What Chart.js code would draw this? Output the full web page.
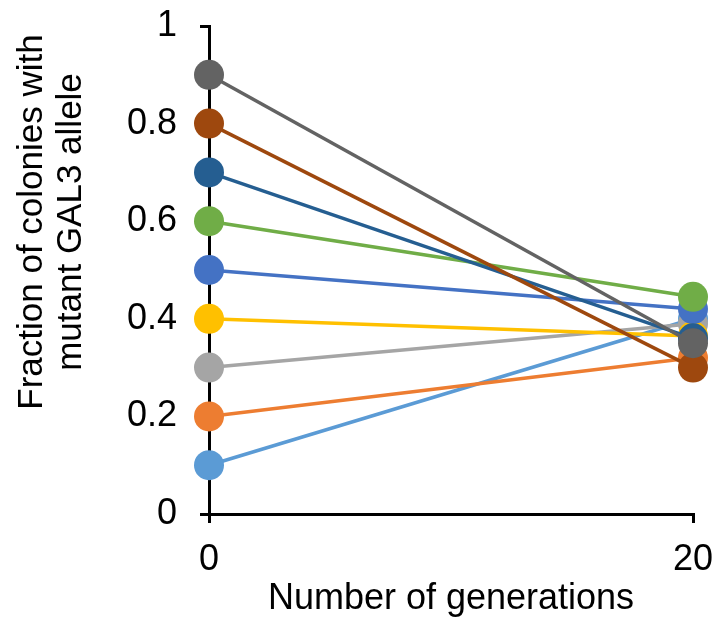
<!DOCTYPE html>
<html>
<head>
<meta charset="utf-8">
<script src="https://cdn.jsdelivr.net/npm/chart.js@4/dist/chart.umd.min.js"></script>
<style>
    body { margin: 0; background: #ffffff; }
    #wrap { width: 716px; height: 623px; }
</style>
</head>
<body>
<div id="wrap"><canvas id="chart"></canvas></div>
<script>
// generations on the x axis
const generations = [0, 20];
// fraction of colonies with mutant allele, one entry per population
const fractionStart = [0.1, 0.2, 0.3, 0.4, 0.5, 0.6, 0.7, 0.8, 0.9];
const fractionEnd = [0.40, 0.32, 0.39, 0.365, 0.42, 0.445, 0.36, 0.30, 0.35];
const seriesColors = ['#5B9BD5', '#ED7D31', '#A5A5A5', '#FFC000', '#4472C4', '#70AD47', '#255E91', '#9E480E', '#636363'];
const yTitleLines = ['Fraction of colonies with', 'mutant GAL3 allele'];
const xTitle = 'Number of generations';

const fontFamily = "'Liberation Sans', Arial, sans-serif";

/* y title is centred higher than the plot area, so it is drawn here */
const yTitlePlugin = {
    id: 'yTitle',
    afterDraw(chart) {
        const ctx = chart.ctx;
        ctx.save();
        ctx.fillStyle = '#000000';
        ctx.font = '35px ' + fontFamily;
        ctx.textAlign = 'center';
        ctx.textBaseline = 'middle';
        const xs = [32, 71];
        yTitleLines.forEach((line, i) => {
            ctx.save();
            ctx.translate(xs[i], 222);
            ctx.rotate(-Math.PI / 2);
            ctx.fillText(line, 0, 0);
            ctx.restore();
        });
        ctx.restore();
    },
};

const datasets = fractionStart.map((v, i) => ({
    label: 'Population ' + (i + 1),
    data: [
        { x: generations[0], y: v },
        { x: generations[1], y: fractionEnd[i] },
    ],
    borderColor: seriesColors[i],
    backgroundColor: seriesColors[i],
    pointBackgroundColor: seriesColors[i],
    pointBorderColor: seriesColors[i],
    // later populations sit on top, like the original
    order: fractionStart.length - 1 - i,
}));

new Chart(document.getElementById('chart'), {
    type: 'line',
    data: { datasets: datasets },
    plugins: [yTitlePlugin],
    options: {
        responsive: true,
        maintainAspectRatio: false,
        animation: false,
        layout: {
            padding: { left: 128, right: 23, top: 26, bottom: 0 },
        },
        datasets: {
            line: {
                borderWidth: 3.5,
                pointRadius: 15,
                pointBorderWidth: 0,
                clip: false,
                tension: 0,
            },
        },
        scales: {
            x: {
                type: 'linear',
                min: 0,
                max: 20,
                afterFit: (scale) => {
                    scale.height = 109;
                    scale.paddingLeft = 0;
                    scale.paddingRight = 0;
                },
                border: { display: true, color: '#000000', width: 3 },
                grid: {
                    drawOnChartArea: false,
                    drawTicks: true,
                    tickLength: 9,
                    color: '#000000',
                    lineWidth: 3,
                },
                ticks: {
                    stepSize: 20,
                    color: '#000000',
                    padding: 15,
                    maxRotation: 0,
                    font: { family: fontFamily, size: 36 },
                },
                title: {
                    display: true,
                    text: xTitle,
                    color: '#000000',
                    padding: { top: 0, bottom: 2 },
                    font: { family: fontFamily, size: 36 },
                },
            },
            y: {
                min: 0,
                max: 1,
                afterFit: (scale) => {
                    scale.width = 81;
                    scale.paddingTop = 0;
                    scale.paddingBottom = 0;
                },
                border: { display: true, color: '#000000', width: 3 },
                grid: {
                    drawOnChartArea: false,
                    drawTicks: true,
                    tickLength: 9,
                    color: '#000000',
                    lineWidth: 3,
                },
                ticks: {
                    stepSize: 0.2,
                    color: '#000000',
                    padding: 23,
                    font: { family: fontFamily, size: 36 },
                    callback: (value) => String(Number(value.toFixed(1))),
                },
            },
        },
        plugins: {
            legend: { display: false },
            tooltip: { enabled: false },
        },
    },
});
</script>
</body>
</html>
